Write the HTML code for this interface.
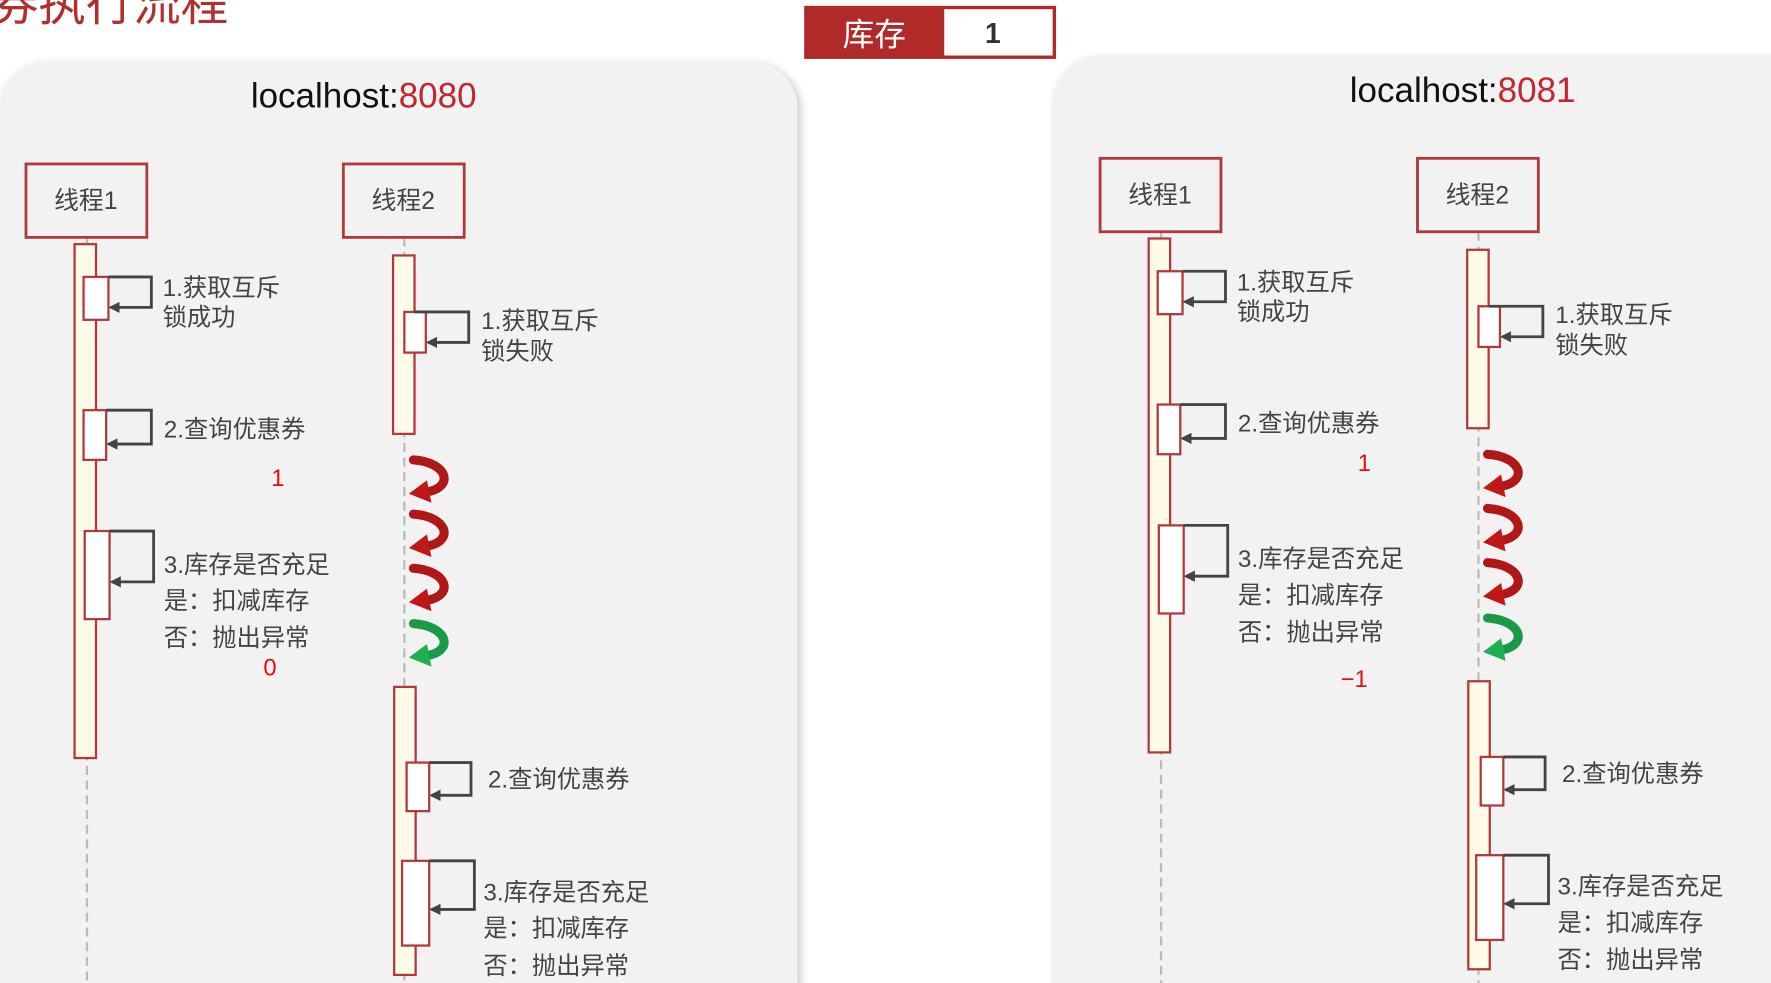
<!DOCTYPE html>
<html><head><meta charset="utf-8"><style>
html,body{margin:0;padding:0;background:#fff;overflow:hidden;width:1771px;height:983px;}
svg{display:block;overflow:hidden;}
text{font-family:"Liberation Sans","Noto Sans CJK SC",sans-serif;}
</style></head><body>
<svg width="1771" height="983" viewBox="0 0 1568 870" xmlns="http://www.w3.org/2000/svg">
<defs>
<clipPath id="cp"><rect width="1568" height="870"/></clipPath>
<filter id="sh" x="-5%" y="-5%" width="110%" height="110%"><feGaussianBlur in="SourceAlpha" stdDeviation="4"/><feOffset dx="2" dy="2"/><feComponentTransfer><feFuncA type="linear" slope="0.25"/></feComponentTransfer><feMerge><feMergeNode/><feMergeNode in="SourceGraphic"/></feMerge></filter>
<marker id="ah" markerWidth="10" markerHeight="10" refX="8" refY="5" orient="auto" markerUnits="userSpaceOnUse"><path d="M0,0 L10,5 L0,10 z" fill="#444"/></marker>
</defs>
<rect width="1568" height="870" fill="#fff"/>
<text x="-8" y="18" font-size="42" fill="#b03030">券执行流程</text>
<rect x="712" y="5" width="223" height="47" fill="#b02a2a"/>
<rect x="836" y="8" width="96" height="41" fill="#fff"/>
<text x="774" y="40" font-size="28" fill="#fff" text-anchor="middle">库存</text>
<text x="879" y="38" font-size="25" font-weight="bold" fill="#333" text-anchor="middle">1</text>
<g clip-path="url(#cp)">
<rect x="0" y="55" width="706" height="900" rx="40" fill="#f2f2f2" filter="url(#sh)"/>
<rect x="933" y="50" width="720" height="900" rx="40" fill="#f2f2f2" filter="url(#sh)"/>
</g>

<g>
<text x="322" y="95" font-size="31" text-anchor="middle" fill="#111">localhost:<tspan fill="#c0282d">8080</tspan></text>
<line x1="77" y1="210" x2="77" y2="870" stroke="#bbb" stroke-width="2" stroke-dasharray="8,5"/>
<line x1="358" y1="210" x2="358" y2="870" stroke="#bbb" stroke-width="2" stroke-dasharray="8,5"/>
<rect x="23" y="145" width="107" height="65" fill="none" stroke="#b03a3a" stroke-width="2.5"/>
<rect x="304" y="145" width="107" height="65" fill="none" stroke="#b03a3a" stroke-width="2.5"/>
<text x="76" y="185" font-size="22" text-anchor="middle" fill="#444">线程1</text>
<text x="357" y="185" font-size="22" text-anchor="middle" fill="#444">线程2</text>
<rect x="66" y="216" width="19" height="455" fill="#fffbe8" stroke="#b03a3a" stroke-width="2"/>
<rect x="74" y="245" width="22" height="38" fill="#fff" stroke="#b03a3a" stroke-width="2"/>
<path d="M96,245 H134 V272 H98" fill="none" stroke="#444" stroke-width="2.5" marker-end="url(#ah)"/>
<rect x="74" y="363" width="20" height="44" fill="#fff" stroke="#b03a3a" stroke-width="2"/>
<path d="M94,363 H134 V393 H96" fill="none" stroke="#444" stroke-width="2.5" marker-end="url(#ah)"/>
<rect x="75" y="470" width="22" height="78" fill="#fff" stroke="#b03a3a" stroke-width="2"/>
<path d="M97,470 H136 V515 H99" fill="none" stroke="#444" stroke-width="2.5" marker-end="url(#ah)"/>
<g font-size="21.5" fill="#444">
<text x="144" y="262">1.获取互斥</text><text x="144" y="288">锁成功</text>
<text x="145" y="387">2.查询优惠券</text>
<text x="145" y="507">3.库存是否充足</text><text x="145" y="539">是：扣减库存</text><text x="145" y="572">否：抛出异常</text>
</g>
<rect x="348" y="226" width="19" height="158" fill="#fffbe8" stroke="#b03a3a" stroke-width="2"/>
<rect x="358" y="276" width="19" height="36" fill="#fff" stroke="#b03a3a" stroke-width="2"/>
<path d="M367,276 H415 V303 H379" fill="none" stroke="#444" stroke-width="2.5" marker-end="url(#ah)"/>
<g font-size="21.5" fill="#444"><text x="426" y="291">1.获取互斥</text><text x="426" y="318">锁失败</text></g>
<g fill="none" stroke-width="8" stroke-linecap="round">
<path d="M366,407 C396,409 402,430 380,435" stroke="#b01818"/>
<path d="M366,455 C396,457 402,478 380,483" stroke="#b01818"/>
<path d="M366,503 C396,505 402,526 380,531" stroke="#b01818"/>
<path d="M366,552 C396,554 402,575 380,580" stroke="#1a9a48"/>
</g>
<polygon points="362,437 378,425 382,445" fill="#c01818"/>
<polygon points="362,485 378,473 382,493" fill="#c01818"/>
<polygon points="362,533 378,521 382,541" fill="#c01818"/>
<polygon points="362,582 378,570 382,590" fill="#1fae52"/>
<rect x="349" y="608" width="19" height="255" fill="#fffbe8" stroke="#b03a3a" stroke-width="2"/>
<rect x="360" y="675" width="20" height="43" fill="#fff" stroke="#b03a3a" stroke-width="2"/>
<path d="M380,675 H417 V704 H382" fill="none" stroke="#444" stroke-width="2.5" marker-end="url(#ah)"/>
<rect x="356" y="762" width="24" height="75" fill="#fff" stroke="#b03a3a" stroke-width="2"/>
<path d="M380,762 H420 V805 H382" fill="none" stroke="#444" stroke-width="2.5" marker-end="url(#ah)"/>
<g font-size="21.5" fill="#444">
<text x="432" y="697">2.查询优惠券</text>
<text x="428" y="797">3.库存是否充足</text><text x="428" y="829">是：扣减库存</text><text x="428" y="862">否：抛出异常</text>
</g>
</g>
<text x="246" y="430" font-size="21" fill="#e01010" text-anchor="middle">1</text>
<text x="239" y="598" font-size="21" fill="#e01010" text-anchor="middle">0</text>

<g transform="translate(951,-5)">
<text x="344" y="95" font-size="31" text-anchor="middle" fill="#111">localhost:<tspan fill="#c0282d">8081</tspan></text>
<line x1="77" y1="210" x2="77" y2="875" stroke="#bbb" stroke-width="2" stroke-dasharray="8,5"/>
<line x1="358" y1="210" x2="358" y2="875" stroke="#bbb" stroke-width="2" stroke-dasharray="8,5"/>
<rect x="23" y="145" width="107" height="65" fill="none" stroke="#b03a3a" stroke-width="2.5"/>
<rect x="304" y="145" width="107" height="65" fill="none" stroke="#b03a3a" stroke-width="2.5"/>
<text x="76" y="185" font-size="22" text-anchor="middle" fill="#444">线程1</text>
<text x="357" y="185" font-size="22" text-anchor="middle" fill="#444">线程2</text>
<rect x="66" y="216" width="19" height="455" fill="#fffbe8" stroke="#b03a3a" stroke-width="2"/>
<rect x="74" y="245" width="22" height="38" fill="#fff" stroke="#b03a3a" stroke-width="2"/>
<path d="M96,245 H134 V272 H98" fill="none" stroke="#444" stroke-width="2.5" marker-end="url(#ah)"/>
<rect x="74" y="363" width="20" height="44" fill="#fff" stroke="#b03a3a" stroke-width="2"/>
<path d="M94,363 H134 V393 H96" fill="none" stroke="#444" stroke-width="2.5" marker-end="url(#ah)"/>
<rect x="75" y="470" width="22" height="78" fill="#fff" stroke="#b03a3a" stroke-width="2"/>
<path d="M97,470 H136 V515 H99" fill="none" stroke="#444" stroke-width="2.5" marker-end="url(#ah)"/>
<g font-size="21.5" fill="#444">
<text x="144" y="262">1.获取互斥</text><text x="144" y="288">锁成功</text>
<text x="145" y="387">2.查询优惠券</text>
<text x="145" y="507">3.库存是否充足</text><text x="145" y="539">是：扣减库存</text><text x="145" y="572">否：抛出异常</text>
</g>
<rect x="348" y="226" width="19" height="158" fill="#fffbe8" stroke="#b03a3a" stroke-width="2"/>
<rect x="358" y="276" width="19" height="36" fill="#fff" stroke="#b03a3a" stroke-width="2"/>
<path d="M367,276 H415 V303 H379" fill="none" stroke="#444" stroke-width="2.5" marker-end="url(#ah)"/>
<g font-size="21.5" fill="#444"><text x="426" y="291">1.获取互斥</text><text x="426" y="318">锁失败</text></g>
<g fill="none" stroke-width="8" stroke-linecap="round">
<path d="M366,407 C396,409 402,430 380,435" stroke="#b01818"/>
<path d="M366,455 C396,457 402,478 380,483" stroke="#b01818"/>
<path d="M366,503 C396,505 402,526 380,531" stroke="#b01818"/>
<path d="M366,552 C396,554 402,575 380,580" stroke="#1a9a48"/>
</g>
<polygon points="362,437 378,425 382,445" fill="#c01818"/>
<polygon points="362,485 378,473 382,493" fill="#c01818"/>
<polygon points="362,533 378,521 382,541" fill="#c01818"/>
<polygon points="362,582 378,570 382,590" fill="#1fae52"/>
<rect x="349" y="608" width="19" height="255" fill="#fffbe8" stroke="#b03a3a" stroke-width="2"/>
<rect x="360" y="675" width="20" height="43" fill="#fff" stroke="#b03a3a" stroke-width="2"/>
<path d="M380,675 H417 V704 H382" fill="none" stroke="#444" stroke-width="2.5" marker-end="url(#ah)"/>
<rect x="356" y="762" width="24" height="75" fill="#fff" stroke="#b03a3a" stroke-width="2"/>
<path d="M380,762 H420 V805 H382" fill="none" stroke="#444" stroke-width="2.5" marker-end="url(#ah)"/>
<g font-size="21.5" fill="#444">
<text x="432" y="697">2.查询优惠券</text>
<text x="428" y="797">3.库存是否充足</text><text x="428" y="829">是：扣减库存</text><text x="428" y="862">否：抛出异常</text>
</g>
</g>
<text x="1208" y="417" font-size="21" fill="#e01010" text-anchor="middle">1</text>
<text x="1199" y="608" font-size="21" fill="#e01010" text-anchor="middle">−1</text>
</svg>
</body></html>
